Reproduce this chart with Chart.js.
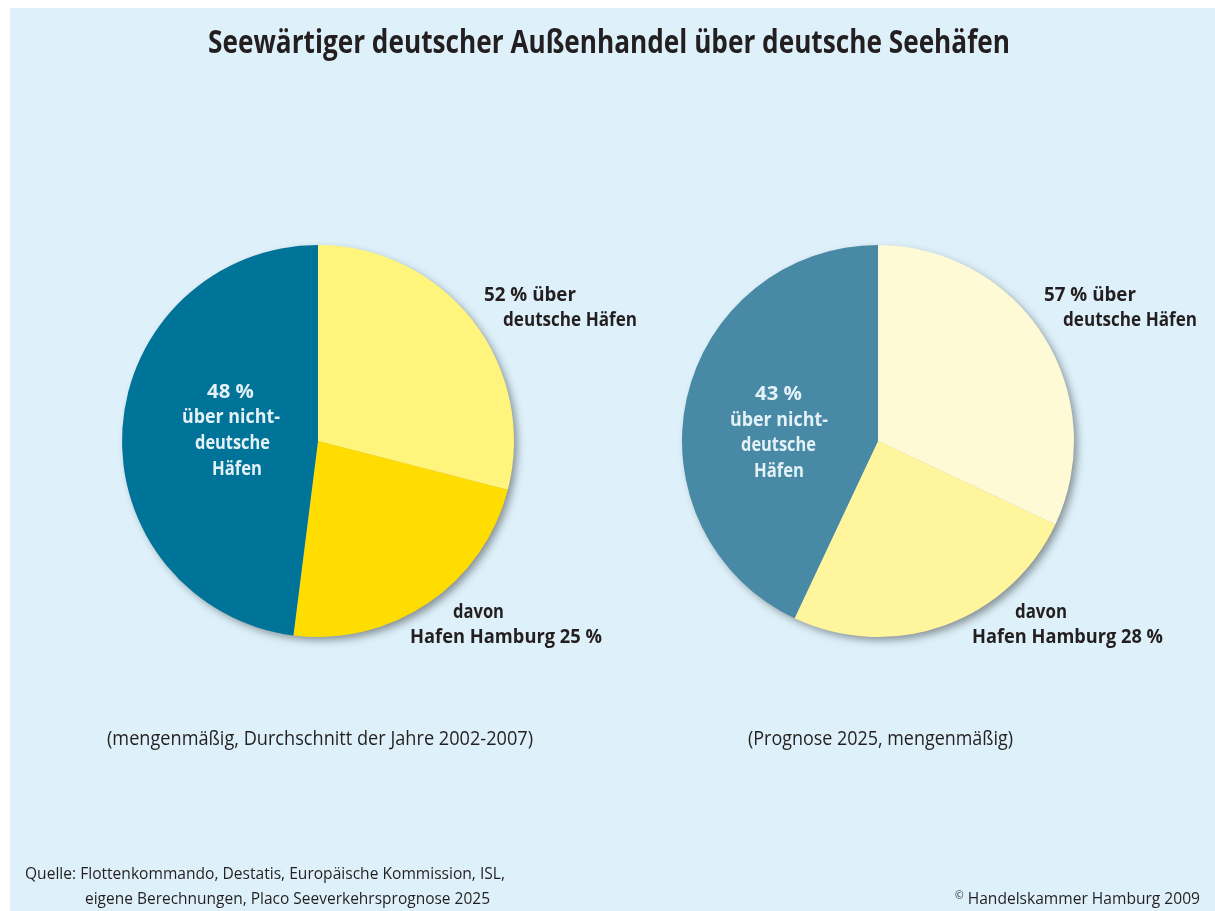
<!DOCTYPE html>
<html lang="de">
<head>
<meta charset="utf-8">
<title>Seewärtiger deutscher Außenhandel über deutsche Seehäfen</title>
<script src="https://cdn.jsdelivr.net/npm/chart.js@4"></script>
<style>
  html, body { margin: 0; padding: 0; background: #ffffff; }
  body { width: 1215px; height: 911px; position: relative; overflow: hidden; }
  #bg { position: absolute; left: 10px; top: 8px; width: 1205px; height: 903px; background: #def1fa; }
  canvas { position: absolute; }
  #c1 { left: 98px; top: 221px; }
  #c2 { left: 658px; top: 221px; }
  #txt { position: absolute; left: 0; top: 0; pointer-events: none; }
  #txt text { font-family: "Open Sans", "Noto Sans", sans-serif; }
</style>
</head>
<body>
<div id="bg"></div>
<canvas id="c1" width="440" height="440"></canvas>
<canvas id="c2" width="440" height="440"></canvas>
<svg id="txt" width="1215" height="911" xmlns="http://www.w3.org/2000/svg">
  <g fill="#231f20">
    <text x="208" y="53" font-size="32" font-weight="700" textLength="802" lengthAdjust="spacingAndGlyphs">Seewärtiger deutscher Außenhandel über deutsche Seehäfen</text>

    <text x="484" y="301" font-size="20" font-weight="700" textLength="92" lengthAdjust="spacingAndGlyphs">52 % über</text>
    <text x="503" y="326" font-size="20" font-weight="700" textLength="134" lengthAdjust="spacingAndGlyphs">deutsche Häfen</text>
    <text x="453" y="618" font-size="20" font-weight="700" textLength="51" lengthAdjust="spacingAndGlyphs">davon</text>
    <text x="410" y="643" font-size="20" font-weight="700" textLength="192" lengthAdjust="spacingAndGlyphs">Hafen Hamburg 25 %</text>
    <text x="107" y="745" font-size="20" font-weight="400" textLength="426" lengthAdjust="spacingAndGlyphs">(mengenmäßig, Durchschnitt der Jahre 2002-2007)</text>

    <text x="1044" y="301" font-size="20" font-weight="700" textLength="92" lengthAdjust="spacingAndGlyphs">57 % über</text>
    <text x="1063" y="326" font-size="20" font-weight="700" textLength="134" lengthAdjust="spacingAndGlyphs">deutsche Häfen</text>
    <text x="1015" y="618" font-size="20" font-weight="700" textLength="52" lengthAdjust="spacingAndGlyphs">davon</text>
    <text x="972" y="643" font-size="20" font-weight="700" textLength="191" lengthAdjust="spacingAndGlyphs">Hafen Hamburg 28 %</text>
    <text x="748" y="745" font-size="20" font-weight="400" textLength="265" lengthAdjust="spacingAndGlyphs">(Prognose 2025, mengenmäßig)</text>

    <text x="25" y="879" font-size="16.5" font-weight="400" textLength="480" lengthAdjust="spacingAndGlyphs">Quelle: Flottenkommando, Destatis, Europäische Kommission, ISL,</text>
    <text x="85" y="904" font-size="16.5" font-weight="400" textLength="405" lengthAdjust="spacingAndGlyphs">eigene Berechnungen, Placo Seeverkehrsprognose 2025</text>
    <text x="955" y="904" font-size="16.5" font-weight="400" textLength="245" lengthAdjust="spacingAndGlyphs"><tspan font-size="11" dy="-5">©</tspan><tspan dy="5"> Handelskammer Hamburg 2009</tspan></text>
  </g>
  <g fill="#e4f2f7" font-weight="700" font-size="19.5">
    <text x="207" y="398" font-weight="700" textLength="47" lengthAdjust="spacingAndGlyphs">48 %</text>
    <text x="182" y="423" font-weight="700" textLength="98" lengthAdjust="spacingAndGlyphs">über nicht-</text>
    <text x="195" y="449" font-weight="700" textLength="75" lengthAdjust="spacingAndGlyphs">deutsche</text>
    <text x="212" y="475" font-weight="700" textLength="50" lengthAdjust="spacingAndGlyphs">Häfen</text>

    <text x="755" y="400" font-weight="700" textLength="47" lengthAdjust="spacingAndGlyphs">43 %</text>
    <text x="730" y="426" font-weight="700" textLength="98" lengthAdjust="spacingAndGlyphs">über nicht-</text>
    <text x="741" y="451" font-weight="700" textLength="75" lengthAdjust="spacingAndGlyphs">deutsche</text>
    <text x="754" y="477" font-weight="700" textLength="50" lengthAdjust="spacingAndGlyphs">Häfen</text>
  </g>
</svg>
<script>
// Categories (clockwise from 12 o'clock)
const categories = ["über deutsche Häfen (ohne Hamburg)", "Hafen Hamburg", "über nicht-deutsche Häfen"];
// Shares as drawn in the picture (percent)
const values2002_2007 = [29, 23, 48];
const values2025 = [32, 25, 43];
// Slice colours
const colors2002_2007 = ["#fff57d", "#ffdd00", "#007399"];
const colors2025 = ["#fffad6", "#fff59c", "#488aa6"];

const pieShadow = {
  id: "pieShadow",
  beforeDatasetsDraw(chart) {
    const arc = chart.getDatasetMeta(0).data[0];
    if (!arc) return;
    const p = arc.getProps(["x", "y", "outerRadius"], true);
    const ctx = chart.ctx;
    ctx.save();
    ctx.shadowColor = "rgba(0,0,0,0.42)";
    ctx.shadowBlur = 9;
    ctx.shadowOffsetX = 4;
    ctx.shadowOffsetY = 4;
    ctx.beginPath();
    ctx.arc(p.x, p.y, p.outerRadius - 1, 0, Math.PI * 2);
    ctx.fillStyle = "#bbbbbb";
    ctx.fill();
    ctx.restore();
  }
};

function makePie(id, values, colors) {
  return new Chart(document.getElementById(id), {
    type: "pie",
    data: {
      labels: categories,
      datasets: [{
        data: values,
        backgroundColor: colors,
        borderWidth: 0,
        hoverOffset: 0
      }]
    },
    options: {
      responsive: false,
      animation: false,
      events: [],
      rotation: 0,
      layout: { padding: 24 },
      plugins: {
        legend: { display: false },
        tooltip: { enabled: false },
        title: { display: false }
      }
    },
    plugins: [pieShadow]
  });
}

makePie("c1", values2002_2007, colors2002_2007);
makePie("c2", values2025, colors2025);
</script>
</body>
</html>
